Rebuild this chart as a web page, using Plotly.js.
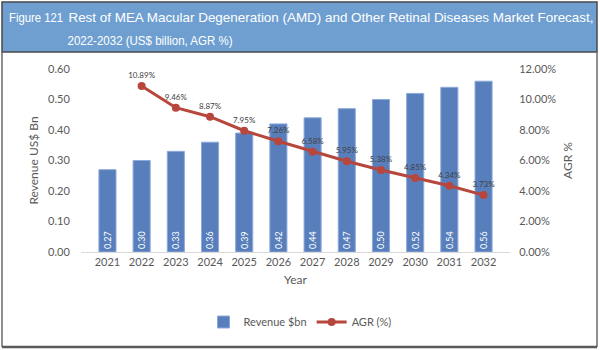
<!DOCTYPE html>
<html><head><meta charset="utf-8">
<script src="https://cdn.plot.ly/plotly-3.0.1.min.js"></script>
<style>html,body{margin:0;padding:0;background:#fff}#c{width:600px;height:350px}</style>
</head><body><div id="c"></div>
<script>
var years = ['2021','2022','2023','2024','2025','2026','2027','2028','2029','2030','2031','2032'];
var revenue = [0.27,0.30,0.33,0.36,0.39,0.42,0.44,0.47,0.50,0.52,0.54,0.56];
var agr = [null,10.89,9.46,8.87,7.95,7.26,6.58,5.95,5.38,4.85,4.34,3.73];
var revLabels = revenue.map(function(v){return v.toFixed(2);});
var agrLabels = agr.map(function(v){return v==null?'':v.toFixed(2)+'%';});
var titleLines = ['Figure 121', 'Rest of MEA Macular Degeneration (AMD) and Other Retinal Diseases Market Forecast,', '2022-2032 (US$ billion, AGR %)'];

var L=81,R=510,T=69,B=252,W=600,H=350;
function px(x){return (x-L)/(R-L);}
function py(y){return (B-y)/(B-T);}

var traces = [
 {type:'bar', x:years, y:revenue, name:'Revenue $bn', width:0.5,
  marker:{color:'#587fbc', line:{color:'#8eaadb', width:1}},
  text:revLabels, textposition:'inside', insidetextanchor:'start', textangle:-90,
  textfont:{color:'#ffffff', size:12, family:'Lato, sans-serif'}, cliponaxis:false, hoverinfo:'none'},
 {type:'scatter', mode:'lines+markers+text', x:years, y:agr, yaxis:'y2', name:'AGR (%)',
  line:{color:'#b7473c', width:3}, marker:{color:'#b7473c', size:8},
  text:agrLabels, textposition:'top center', textfont:{color:'#404040', size:8, family:'Lato, sans-serif'},
  cliponaxis:false, hoverinfo:'none'}
];

var tickfont = {family:'Lato, sans-serif', size:11, color:'#595959'};
// [center x px, center y px, target width px, font size]
var titleBoxes = [[36,18,54,13],[331,18,525,13.4],[150,40,165,13.4]];
var anns = titleBoxes.map(function(b,i){
  return {xref:'paper', yref:'paper', x:px(b[0]), y:py(b[1]), xanchor:'center', yanchor:'middle', showarrow:false, borderpad:0,
    text:titleLines[i], font:{family:'Liberation Sans, Arial, sans-serif', size:b[3], color:'#ffffff'}};
});
var layout = {
 width:W, height:H, margin:{l:L, r:W-R, t:T, b:H-B},
 paper_bgcolor:'#ffffff', plot_bgcolor:'#ffffff', showlegend:true,
 bargap:0.5,
 xaxis:{type:'category', tickfont:tickfont, showgrid:false, showline:true, linecolor:'#d9d9d9', linewidth:1,
   ticks:'', ticklen:0, title:{text:'Year', font:{family:'Lato, sans-serif', size:12, color:'#595959'}, standoff:8}},
 yaxis:{range:[0,0.6], dtick:0.1, tickformat:'.2f', tickfont:tickfont, showgrid:false, zeroline:false, showline:false,
   ticks:'outside', ticklen:8, tickcolor:'rgba(0,0,0,0)',
   title:{text:'Revenue US$ Bn', font:{family:'Lato, sans-serif', size:12, color:'#595959'}, standoff:6}},
 yaxis2:{overlaying:'y', side:'right', range:[0,12], dtick:2, ticksuffix:'%', tickformat:'.2f', tickfont:tickfont,
   showgrid:false, zeroline:false, showline:false, ticks:'outside', ticklen:6, tickcolor:'rgba(0,0,0,0)',
   title:{text:'AGR %', font:{family:'Lato, sans-serif', size:12, color:'#595959'}, standoff:8}},
 legend:{orientation:'h', x:0.5, xanchor:'center', xref:'container', y:(H-322)/H, yref:'container', yanchor:'middle',
   font:{family:'Lato, sans-serif', size:11, color:'#595959'}, itemwidth:30},
 shapes:[
  {type:'rect', xref:'paper', yref:'paper', x0:px(2), x1:px(597), y0:py(2), y1:py(52), fillcolor:'#6f9fd1', line:{color:'#4a4a4a', width:1.5}, layer:'below'},
  {type:'line', xref:'paper', yref:'paper', x0:px(2), x1:px(2), y0:py(52), y1:py(347), line:{color:'#6b6b6b', width:1.5}},
  {type:'line', xref:'paper', yref:'paper', x0:px(597), x1:px(597), y0:py(52), y1:py(347), line:{color:'#6b6b6b', width:1.5}},
  {type:'line', xref:'paper', yref:'paper', x0:px(2), x1:px(597), y0:py(347), y1:py(347), line:{color:'#5a5a5a', width:2.5}}
 ],
 annotations:anns
};
Plotly.newPlot('c', traces, layout, {displayModeBar:false, staticPlot:true}).then(function(gd){
  var texts = gd.querySelectorAll('.annotation-text');
  for (var i=0;i<texts.length && i<titleBoxes.length;i++){
    texts[i].setAttribute('textLength', titleBoxes[i][2]);
    texts[i].setAttribute('lengthAdjust','spacingAndGlyphs');
  }
});
</script></body></html>
